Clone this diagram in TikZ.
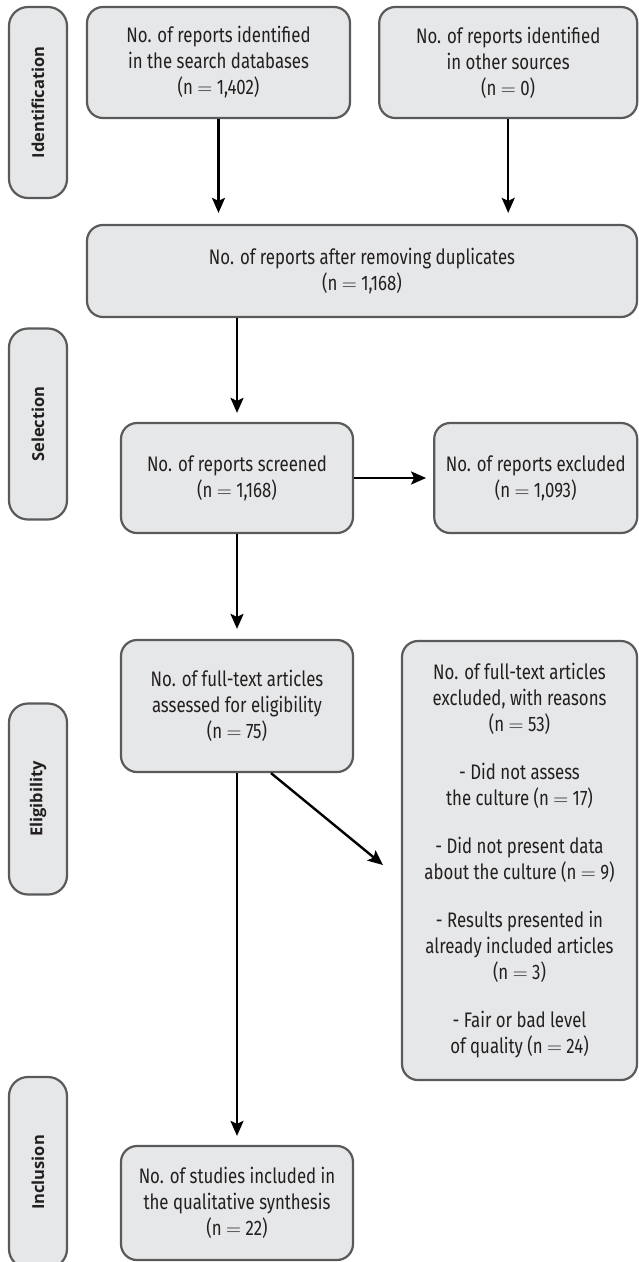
\documentclass[tikz,border=0pt]{standalone}
\usepackage{fontspec}
\setmainfont{Fira Sans}[FakeStretch=0.8]
\newfontfamily\stagefont{Open Sans}
\usetikzlibrary{positioning}
\usetikzlibrary {arrows.meta}
\definecolor{boxfill}{HTML}{E6E7E8}
\definecolor{boxline}{HTML}{5A5A5A}
\definecolor{boxtext}{HTML}{231F20}
\tikzset{prisma/.style={rectangle,rounded corners=16pt,draw=boxline,fill=boxfill,
line width=2.2pt,text=boxtext,inner sep=0pt,align=center,font=\fontsize{21}{26}\selectfont}}
\tikzset{stage/.style={prisma,rounded corners=19pt,minimum width=191pt,minimum height=58pt,
rotate=90,font=\stagefont\bfseries\fontsize{16.5}{18}\selectfont}}
\tikzset{flow/.style={line width=2.4pt,-{Stealth[length=15pt,width=13pt,inset=3pt]}}}

\begin{document}
\begin{tikzpicture}[x=1pt,y=-1pt]
        \useasboundingbox (0,0) rectangle (638,1262);

        \node[stage] (stIdent) at (38,102.5) {Identification};
        \node[stage] (stSel) at (38,424) {Selection};
        \node[stage] (stElig) at (38,799) {Eligibility};
        \node[stage] (stIncl) at (38,1172.5) {Inclusion};

        \node[prisma,minimum width=263pt,minimum height=111pt] (boxDb) at (218.5,62.5) {No. of reports identified\\in the search databases\\(n $=$ 1,402)};
        \node[prisma,minimum width=258pt,minimum height=111pt] (boxOther) [right=27pt of boxDb] {No. of reports identified\\in other sources\\(n $=$ 0)};
        \node[prisma,minimum width=550pt,minimum height=92pt] (boxDup) at (362,271) {No. of reports after removing duplicates\\(n $=$ 1,168)};
        \node[prisma,minimum width=232pt,minimum height=110pt] (boxScr) at (237,478) {No. of reports screened\\(n $=$ 1,168)};
        \node[prisma,minimum width=203pt,minimum height=110pt] (boxExcl) [right=79pt of boxScr] {No. of reports excluded\\(n $=$ 1,093)};
        \node[prisma,minimum width=232pt,minimum height=132pt] (boxFull) at (237,706) {No. of full-text articles\\assessed for eligibility\\(n $=$ 75)};
        \node[prisma,minimum width=235pt,minimum height=439pt] (boxWhy) at (519.5,860.5) {No. of full-text articles\\excluded, with reasons\\(n $=$ 53)\\[22pt]- Did not assess\\the culture (n $=$ 17)\\[22pt]- Did not present data\\about the culture (n $=$ 9)\\[22pt]- Results presented in\\already included articles\\(n $=$ 3)\\[22pt]- Fair or bad level\\of quality (n $=$ 24)};
        \node[prisma,minimum width=232pt,minimum height=114pt] (boxIncl) at (237,1203) {No. of studies included in\\the qualitative synthesis\\(n $=$ 22)};

        \draw [flow,shorten >=11pt] (boxDb.south) -- (boxDb.south |- boxDup.north);
        \draw [flow,shorten >=11pt] (boxOther.south) -- (boxOther.south |- boxDup.north);
        \draw [flow,shorten >=9pt] (boxScr.north |- boxDup.south) -- (boxScr.north);
        \draw [flow,shorten >=7pt] (boxScr.east) -- (boxExcl.west);
        \draw [flow,shorten >=10pt] (boxScr.south) -- (boxFull.north);
        \coordinate (whyTip) at (383,865);
        \draw [flow] ([xshift=34pt]boxFull.south) -- (whyTip);
        \draw [flow,shorten >=9pt] (boxFull.south) -- (boxIncl.north);

    \end{tikzpicture}
\end{document}
